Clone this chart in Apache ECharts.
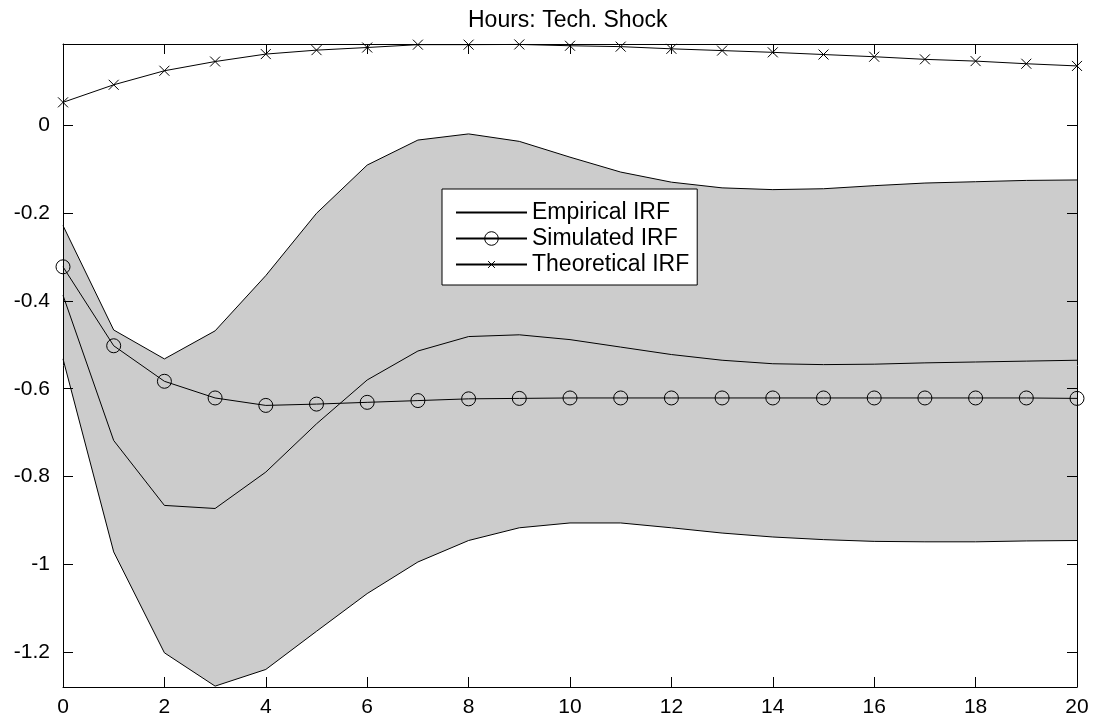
<!DOCTYPE html>
<html>
<head>
<meta charset="utf-8">
<script src="https://cdn.jsdelivr.net/npm/echarts@6/dist/echarts.min.js"></script>
<style>
html,body{margin:0;padding:0;background:#fff;}
#chart{width:1097px;height:725px;}
</style>
</head>
<body>
<div id="chart"></div>
<script>
const horizon = [0,1,2,3,4,5,6,7,8,9,10,11,12,13,14,15,16,17,18,19,20];
const empiricalIRF = [-0.387,-0.718,-0.866,-0.873,-0.790,-0.680,-0.580,-0.514,-0.481,-0.477,-0.488,-0.505,-0.522,-0.535,-0.543,-0.545,-0.544,-0.541,-0.539,-0.537,-0.535];
const simulatedIRF = [-0.322,-0.502,-0.583,-0.621,-0.638,-0.635,-0.631,-0.627,-0.623,-0.622,-0.621,-0.621,-0.621,-0.621,-0.621,-0.621,-0.621,-0.621,-0.621,-0.621,-0.622];
const theoreticalIRF = [0.053,0.093,0.125,0.146,0.163,0.172,0.178,0.1845,0.1845,0.185,0.182,0.180,0.175,0.171,0.167,0.162,0.157,0.151,0.147,0.141,0.136];
const bandUpper = [-0.228,-0.466,-0.532,-0.468,-0.342,-0.200,-0.090,-0.033,-0.019,-0.036,-0.072,-0.106,-0.129,-0.142,-0.146,-0.144,-0.137,-0.131,-0.128,-0.125,-0.124];
const bandLower = [-0.532,-0.972,-1.202,-1.278,-1.240,-1.153,-1.067,-0.995,-0.946,-0.917,-0.906,-0.906,-0.917,-0.929,-0.938,-0.944,-0.948,-0.949,-0.949,-0.947,-0.946];
const titleText = 'Hours: Tech. Shock';
const seriesNames = ['Empirical IRF','Simulated IRF','Theoretical IRF'];
const xMin = 0, xMax = 20, xStep = 2;
const yMin = -1.28, yMax = 0.186;

const pairs = arr => horizon.map((x,i)=>[x, arr[i]]);
const font = 'Liberation Sans, Arial, Helvetica, sans-serif';
const crossPath = 'path://M-5,-5L-5,-5M0,0L10,10M10,0L0,10M15,15L15,15';

const axisCommon = {
  z:10,
  axisLine:{show:true, onZero:false, lineStyle:{color:'#000', width:1}},
  axisTick:{show:true, inside:true, length:10, lineStyle:{color:'#000', width:1}},
  splitLine:{show:false}
};

const chart = echarts.init(document.getElementById('chart'), null, {renderer:'canvas'});
chart.setOption({
  animation:false,
  backgroundColor:'#fff',
  title:{
    text:titleText, left:463, top:4,
    textStyle:{fontFamily:font, fontSize:23, fontWeight:'normal', color:'#000'}
  },
  legend:{
    data:[
      {name:seriesNames[0], itemStyle:{opacity:0}},
      {name:seriesNames[1], itemStyle:{color:'rgba(0,0,0,0)', borderColor:'#000', borderWidth:1}},
      {name:seriesNames[2], itemStyle:{color:'rgba(0,0,0,0)', borderColor:'#000', borderWidth:1}}
    ],
    orient:'vertical', left:442, top:189,
    padding:[12,8,9,13], itemGap:3, itemWidth:71, itemHeight:17,
    backgroundColor:'#fff', borderColor:'#000', borderWidth:1, borderRadius:0,
    textStyle:{fontFamily:font, fontSize:23, color:'#000'},
    selectedMode:false, z:20
  },
  grid:{left:63, right:20, top:44, bottom:38, containLabel:false, outerBoundsMode:'none'},
  xAxis:[
    Object.assign({type:'value', position:'bottom', min:xMin, max:xMax, interval:xStep,
      axisLabel:{show:true, margin:10, fontFamily:font, fontSize:21, color:'#000'}}, axisCommon),
    Object.assign({type:'value', position:'top', min:xMin, max:xMax, interval:xStep,
      axisLabel:{show:false}}, axisCommon)
  ],
  yAxis:[
    Object.assign({type:'value', position:'left', min:yMin, max:yMax, splitNumber:7,
      axisLabel:{show:true, margin:13, fontFamily:font, fontSize:21, color:'#000', showMinLabel:false, showMaxLabel:false}}, axisCommon),
    Object.assign({type:'value', position:'right', min:yMin, max:yMax, splitNumber:7,
      axisLabel:{show:false}}, axisCommon)
  ],
  series:[
    {
      name:'bandUpper', type:'line', data:pairs(bandUpper),
      symbol:'none', lineStyle:{color:'#000', width:1}, itemStyle:{color:'#000'},
      areaStyle:{color:'#cccccc', opacity:1, origin:'start'}, z:1, silent:true
    },
    {
      name:'bandLower', type:'line', data:pairs(bandLower),
      symbol:'none', lineStyle:{color:'#000', width:1}, itemStyle:{color:'#000'},
      areaStyle:{color:'#ffffff', opacity:1, origin:'start'}, z:2, silent:true
    },
    {
      name:seriesNames[0], type:'line', data:pairs(empiricalIRF), symbol:'none',
      lineStyle:{color:'#000', width:1}, itemStyle:{color:'#000'}, z:3
    },
    {
      name:seriesNames[1], type:'line', data:pairs(simulatedIRF), symbol:'circle', symbolSize:14,
      lineStyle:{color:'#000', width:1},
      itemStyle:{color:'rgba(0,0,0,0)', borderColor:'#000', borderWidth:1}, z:4
    },
    {
      name:seriesNames[2], type:'line', data:pairs(theoreticalIRF), symbol:crossPath, symbolSize:20,
      lineStyle:{color:'#000', width:1},
      itemStyle:{color:'rgba(0,0,0,0)', borderColor:'#000', borderWidth:1}, z:4, clip:false
    }
  ]
});
</script>
</body>
</html>
